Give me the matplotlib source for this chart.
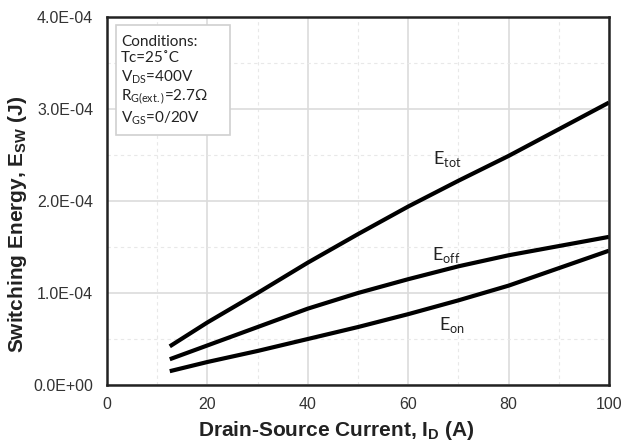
import numpy as np
import matplotlib
matplotlib.use("Agg")
from matplotlib import pyplot as plt
from matplotlib.ticker import MultipleLocator
from matplotlib.patches import Rectangle

# data (current in A, energy in J)
current = [12.5, 20, 30, 40, 50, 60, 70, 80, 90, 100]
e_tot = [4.2e-5, 6.8e-5, 1.0e-4, 1.33e-4, 1.64e-4, 1.94e-4, 2.22e-4, 2.49e-4, 2.78e-4, 3.07e-4]
e_off = [2.8e-5, 4.3e-5, 6.3e-5, 8.3e-5, 1.0e-4, 1.15e-4, 1.29e-4, 1.41e-4, 1.51e-4, 1.61e-4]
e_on = [1.5e-5, 2.5e-5, 3.7e-5, 5.0e-5, 6.3e-5, 7.7e-5, 9.2e-5, 1.08e-4, 1.27e-4, 1.46e-4]

labels = [(r"E$_\mathregular{tot}$", 67.7, 2.46e-4),
          (r"E$_\mathregular{off}$", 67.5, 1.41e-4),
          (r"E$_\mathregular{on}$", 68.8, 0.65e-4)]

cond = ("Conditions:\n"
        "Tc=25\u02daC\n"
        "V$_\\mathregular{DS}$=400V\n"
        "R$_\\mathregular{G(ext.)}$=2.7\u03a9\n"
        "V$_\\mathregular{GS}$=0/20V")

dark = "#222222"

fig = plt.figure(figsize=(6.24, 4.41), dpi=100)
ax = fig.add_axes([0.1715, 0.127, 0.8045, 0.8345])

for y in (e_tot, e_off, e_on):
    ax.plot(current, y, color="black", lw=3, solid_capstyle="butt", solid_joinstyle="round")

ax.set_xlim(0, 100)
ax.set_ylim(0, 4e-4)
ax.xaxis.set_major_locator(MultipleLocator(20))
ax.xaxis.set_minor_locator(MultipleLocator(10))
ax.yaxis.set_major_locator(MultipleLocator(1e-4))
ax.yaxis.set_minor_locator(MultipleLocator(0.5e-4))
ax.yaxis.set_major_formatter(plt.FuncFormatter(lambda v, p: "%.1E" % v))
ax.grid(which="major", color="#dcdcdc", lw=1.2)
ax.grid(which="minor", color="#e8e8e8", lw=0.8, ls=(0, (3, 3)))
ax.set_axisbelow(True)
ax.tick_params(which="both", length=0, labelsize=11.5, colors="#333333")
ax.tick_params(axis="y", pad=10)
ax.tick_params(axis="x", pad=9)
for lab in ax.get_xticklabels() + ax.get_yticklabels():
    lab.set_family("Liberation Sans")
for s in ax.spines.values():
    s.set_linewidth(1.8)
    s.set_color(dark)

ax.set_xlabel(r"Drain-Source Current, I$_\mathregular{D}$ (A)", family="Liberation Sans",
              fontsize=15, fontweight="bold", color=dark, va="top")
ax.set_ylabel(r"Switching Energy, E$_\mathregular{SW}$ (J)", family="Liberation Sans",
              fontsize=15, fontweight="bold", color=dark)
ax.xaxis.set_label_coords(0.456, -0.093)
ax.yaxis.set_label_coords(-0.155, 0.4375)

for txt, x, y in labels:
    ax.text(x, y, txt, family="Lato", fontsize=13, ha="center", va="center", color=dark)

# conditions box
ax.add_patch(Rectangle((0.018, 0.679), 0.227, 0.299, transform=ax.transAxes,
                       facecolor="white", edgecolor="#d0d0d0", lw=1.2, zorder=3))
ax.text(0.028, 0.951, cond, transform=ax.transAxes, family="Lato", fontsize=11,
        va="top", ha="left", linespacing=1.2, color=dark, zorder=4)

fig.savefig("out.png", dpi=100)
